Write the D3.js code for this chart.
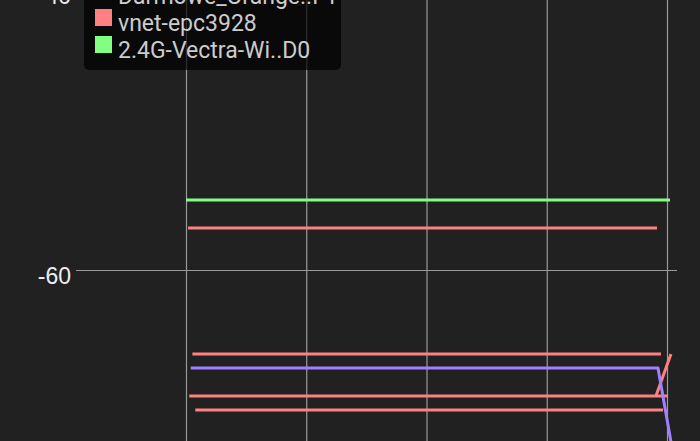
<!DOCTYPE html>
<html>
<head>
<meta charset="utf-8">
<script src="https://cdn.jsdelivr.net/npm/d3@7"></script>
<style>
    html, body { margin: 0; padding: 0; background: #212121; overflow: hidden; }
    svg { display: block; font-family: Roboto, "Noto Sans", sans-serif; }
</style>
</head>
<body>
<div id="chart"></div>
<script>
// Signal level (dBm) over scan time, only the visible part of the graph
const yTicks = [-60, -40];
const xTicks = [0, 10, 20, 30, 40];

const legendNames = ["Darmowe_Orange..F1", "vnet-epc3928", "2.4G-Vectra-Wi..D0"];
const legendColors = ["#ff8080", "#ff8080", "#80ff80"];

// each series: [time, dBm] points
const vectraLine = [[0, -55], [40.25, -55]];
const vnetLine = [[0.17, -57], [39.17, -57]];
const redLine66 = [[0.53, -66], [39.5, -66]];
const purpleLine = [[0.39, -67], [39.25, -67], [41.3, -77]];
const redLine69 = [[0.27, -69], [40.08, -69]];
const redLine70 = [[0.77, -70], [39.67, -70]];
const redJump = [[39.08, -69], [40.33, -66]];

const seriesList = [
    { pts: vectraLine, color: "#80ff80" },
    { pts: vnetLine, color: "#ff8080" },
    { pts: redLine66, color: "#ff8080" },
    { pts: redLine69, color: "#ff8080" },
    { pts: redLine70, color: "#ff8080" },
    { pts: redJump, color: "#ff8080" },
    { pts: purpleLine, color: "#9f80ff" }
];

const width = 700, height = 441;
const margin = { left: 76, right: 23 };

const svg = d3.select("#chart")
    .append("svg")
    .attr("width", width)
    .attr("height", height);

const xScale = d3.scaleLinear()
    .domain([0, 40])
    .range([186, 667]);

const yScale = d3.scaleLinear()
    .domain([-60, -40])
    .range([270, -10]);

// horizontal grid + labels
const yAxis = d3.axisLeft(yScale)
    .tickValues(yTicks)
    .tickSize(-(width - margin.right - margin.left))
    .tickPadding(5)
    .tickFormat(d => String(d));   // plain hyphen, not unicode minus

const yAxisGroup = svg.append("g")
    .attr("transform", `translate(${margin.left}, 0)`)
    .call(yAxis);
yAxisGroup.select(".domain").remove();
yAxisGroup.selectAll("line")
    .attr("stroke", "#9a9a9a")
    .attr("stroke-width", 1.2);
yAxisGroup.selectAll("text")
    .attr("fill", "#eeeeee")
    .attr("dy", "0.6em")
    .style("font-size", "23px");

// vertical grid (labels fall below the visible area)
const xAxis = d3.axisBottom(xScale)
    .tickValues(xTicks)
    .tickSize(-500)
    .tickFormat("");

const xAxisGroup = svg.append("g")
    .attr("transform", `translate(0, 470)`)
    .call(xAxis);
xAxisGroup.select(".domain").remove();
xAxisGroup.selectAll("line")
    .attr("stroke", "#9a9a9a")
    .attr("stroke-width", 1.2);

// series lines
const line = d3.line()
    .x(d => xScale(d[0]))
    .y(d => yScale(d[1]));

svg.append("g")
    .selectAll("path")
    .data(seriesList)
    .enter().append("path")
    .attr("d", d => line(d.pts))
    .attr("fill", "none")
    .attr("stroke", d => d.color)
    .attr("stroke-width", 3)
    .attr("stroke-linejoin", "round");

// legend box (semi transparent, top rows are cut off)
const legend = svg.append("g")
    .attr("transform", "translate(84, 0)");

legend.append("rect")
    .attr("x", 0)
    .attr("y", -30)
    .attr("width", 257)
    .attr("height", 100)
    .attr("rx", 5)
    .attr("fill", "rgba(0,0,0,0.7)");

const rows = legend.selectAll(".row")
    .data(legendNames)
    .enter().append("g")
    .attr("class", "row")
    .attr("transform", (d, i) => `translate(0, ${(i - 1) * 27})`);

rows.append("rect")
    .attr("x", 11)
    .attr("y", 9)
    .attr("width", 17)
    .attr("height", 17)
    .attr("fill", (d, i) => legendColors[i]);

rows.append("text")
    .attr("x", 34)
    .attr("y", 31)
    .attr("fill", "#cccccc")
    .style("font-size", "23px")
    .text(d => d);
</script>
</body>
</html>
